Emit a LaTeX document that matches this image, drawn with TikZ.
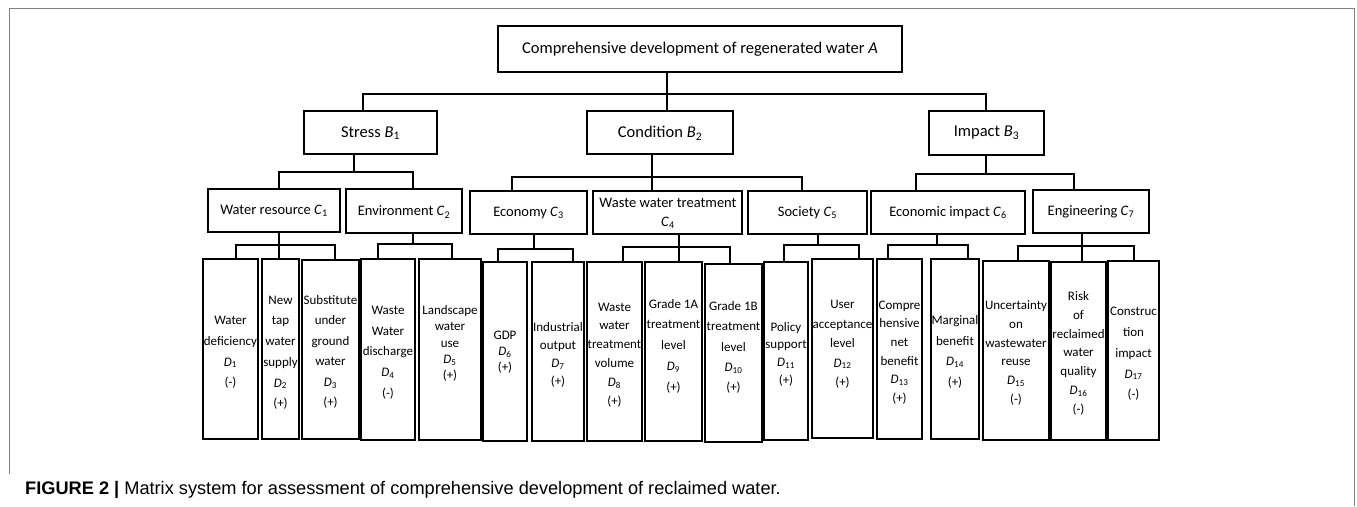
\documentclass[tikz,border=0pt]{standalone}
\usepackage{fontspec}
\setmainfont{Carlito}
\newfontfamily\capfont{Liberation Sans}
\usetikzlibrary{fit}
\tikzset{
  box/.style={draw, line width=1.3pt, inner sep=0pt, outer sep=0pt},
  conn/.style={draw, line width=1.3pt},
  dlab/.style={font=\fontsize{13}{#1}\selectfont, align=center, inner sep=0pt},
  clab/.style={font=\fontsize{14.5}{19}\selectfont, align=center, inner sep=0pt},
  blab/.style={font=\fontsize{16.5}{19}\selectfont, inner sep=0pt},
  frameline/.style={draw=black!50, line width=1pt},
}
\newcommand\mkbox[5]{\node[box, fit={(#2,#3) (#4,#5)}] (#1) {};}
\newcommand\Dsub[1]{\textit{D}\textsubscript{#1}}
\begin{document}
\begin{tikzpicture}[x=1pt, y=-1pt]
\useasboundingbox (0,0) rectangle (1357,506);
% outer frame
\draw[frameline] (9,474) -- (9,8) -- (1354,8) -- (1354,506);

% ---- boxes
\mkbox{A}{498}{26}{902}{72}
\mkbox{B1}{304}{111}{437}{154}
\mkbox{B2}{587}{111}{733}{154}
\mkbox{B3}{929}{111}{1044}{155}
\mkbox{C1}{208}{189}{340}{232}
\mkbox{C2}{346}{189}{462}{233}
\mkbox{C3}{470}{191}{587}{234}
\mkbox{C4}{593}{191}{742}{234}
\mkbox{C5}{748}{191}{867}{234}
\mkbox{C6}{871}{191}{1025}{234}
\mkbox{C7}{1033}{190}{1149}{233}
\mkbox{D1}{203}{259}{258}{439}
\mkbox{D2}{262}{259}{299}{439}
\mkbox{D3}{302}{260}{359}{439}
\mkbox{D4}{361}{259}{415}{440}
\mkbox{D5}{419}{259}{481}{440}
\mkbox{D6}{483}{262}{527}{441}
\mkbox{D7}{532}{262}{584}{441}
\mkbox{D8}{587}{262}{642}{441}
\mkbox{D9}{645}{262}{702}{441}
\mkbox{D10}{705}{264}{762}{442}
\mkbox{D11}{764}{262}{808}{440}
\mkbox{D12}{812}{259}{873}{438}
\mkbox{D13}{877}{259}{922}{439}
\mkbox{D14}{931}{259}{979}{439}
\mkbox{D15}{983}{261}{1049}{440}
\mkbox{D16}{1051}{262}{1106}{440}
\mkbox{D17}{1108}{261}{1159}{440}

% ---- labels
\node[blab] (tA) at (700,49) {Comprehensive development of regenerated water \textit{A}};
\node[blab] (tB1) at (370.5,133) {Stress \textit{B}\textsubscript{1}};
\node[blab] (tB2) at (660,133) {Condition \textit{B}\textsubscript{2}};
\node[blab] (tB3) at (986.5,133) {Impact \textit{B}\textsubscript{3}};
\node[clab] (tC1) at (274,211) {Water resource \textit{C}\textsubscript{1}};
\node[clab] (tC2) at (404,212) {Environment \textit{C}\textsubscript{2}};
\node[clab] (tC3) at (528.5,213) {Economy \textit{C}\textsubscript{3}};
\node[clab] (tC4) at (668,213.5) {Waste water treatment\\\textit{C}\textsubscript{4}};
\node[clab] (tC5) at (807.5,213) {Society \textit{C}\textsubscript{5}};
\node[clab] (tC6) at (948,213) {Economic impact \textit{C}\textsubscript{6}};
\node[clab] (tC7) at (1091,212) {Engineering \textit{C}\textsubscript{7}};

\node[dlab=20.7] (tD1) at (230.5,352.5) {Water\\deficiency\\\Dsub{1}\\(-)};
\node[dlab=20.7] (tD2) at (280.5,352.7) {New\\tap\\water\\supply\\\Dsub{2}\\(+)};
\node[dlab=20.5] (tD3) at (330.5,352) {Substitute\\under\\ground\\water\\\Dsub{3}\\(+)};
\node[dlab=20.75] (tD4) at (388,352.5) {Waste\\Water\\discharge\\\Dsub{4}\\(-)};
\node[dlab=16.25] (tD5) at (450,343.5) {Landscape\\water\\use\\\Dsub{5}\\(+)};
\node[dlab=16.2] (tD6) at (505,352) {GDP\\\Dsub{6}\\(+)};
\node[dlab=18] (tD7) at (558,354.7) {Industrial\\output\\\Dsub{7}\\(+)};
\node[dlab=18.9] (tD8) at (614.5,355) {Waste\\water\\treatment\\volume\\\Dsub{8}\\(+)};
\node[dlab=20.8] (tD9) at (673.5,346) {Grade 1A\\treatment\\level\\\Dsub{9}\\(+)};
\node[dlab=20.4] (tD10) at (733.5,347.5) {Grade 1B\\treatment\\level\\\Dsub{10}\\(+)};
\node[dlab=17.7] (tD11) at (786,354) {Policy\\support\\\Dsub{11}\\(+)};
\node[dlab=19.4] (tD12) at (842.5,344.5) {User\\acceptance\\level\\\Dsub{12}\\(+)};
\node[dlab=18.7] (tD13) at (899.5,352.5) {Compre\\hensive\\net\\benefit\\\Dsub{13}\\(+)};
\node[dlab=20.6] (tD14) at (955,352) {Marginal\\benefit\\\Dsub{14}\\(+)};
\node[dlab=18.8] (tD15) at (1016,353) {Uncertainty\\on\\wastewater\\reuse\\\Dsub{15}\\(-)};
\node[dlab=18.9] (tD16) at (1078.5,353.3) {Risk\\of\\reclaimed\\water\\quality\\\Dsub{16}\\(-)};
\node[dlab=20.75] (tD17) at (1133.5,354) {Construc\\tion\\impact\\\Dsub{17}\\(-)};

% ---- connectors A -> B
\draw[conn] (A.south -| 667,0) -- (B2.north -| 667,0);
\draw[conn] (B1.north -| 363,0) |- (986,94) -- (B3.north -| 986,0);
% B -> C
\draw[conn] (B1.south -| 354,0) -- (354,172);
\draw[conn] (C1.north -| 279,0) |- (413,172) -- (C2.north -| 413,0);
\draw[conn] (B2.south -| 652,0) -- (C4.north -| 652,0);
\draw[conn] (C3.north -| 512,0) |- (802,177) -- (C5.north -| 802,0);
\draw[conn] (B3.south -| 986,0) -- (986,174);
\draw[conn] (C6.north -| 916,0) |- (1074,174) -- (C7.north -| 1074,0);
% C -> D
\draw[conn] (C1.south -| 279,0) -- (D2.north -| 279,0);
\draw[conn] (D1.north -| 236,0) |- (335,245) -- (D3.north -| 335,0);
\draw[conn] (C2.south -| 413,0) -- (413,244);
\draw[conn] (D4.north -| 378,0) |- (452,244) -- (D5.north -| 452,0);
\draw[conn] (C3.south -| 534,0) -- (534,249);
\draw[conn] (D6.north -| 498,0) |- (573,249) -- (D7.north -| 573,0);
\draw[conn] (C4.south -| 679,0) -- (D9.north -| 679,0);
\draw[conn] (D8.north -| 623,0) |- (730,247) -- (D10.north -| 730,0);
\draw[conn] (C5.south -| 818,0) -- (818,245);
\draw[conn] (D11.north -| 784,0) |- (859,245) -- (D12.north -| 859,0);
\draw[conn] (C6.south -| 937,0) -- (937,245);
\draw[conn] (D13.north -| 888,0) |- (968,245) -- (D14.north -| 968,0);
\draw[conn] (C7.south -| 1082,0) -- (D16.north -| 1082,0);
\draw[conn] (D15.north -| 1018,0) |- (1134,246) -- (D17.north -| 1134,0);

% ---- caption
\node[anchor=base west, inner sep=0pt, font=\capfont\fontsize{18.2}{21}\selectfont] (cap) at (25,494.5)
  {\textbf{FIGURE 2 |} Matrix system for assessment of comprehensive development of reclaimed water.};
\end{tikzpicture}
\end{document}
